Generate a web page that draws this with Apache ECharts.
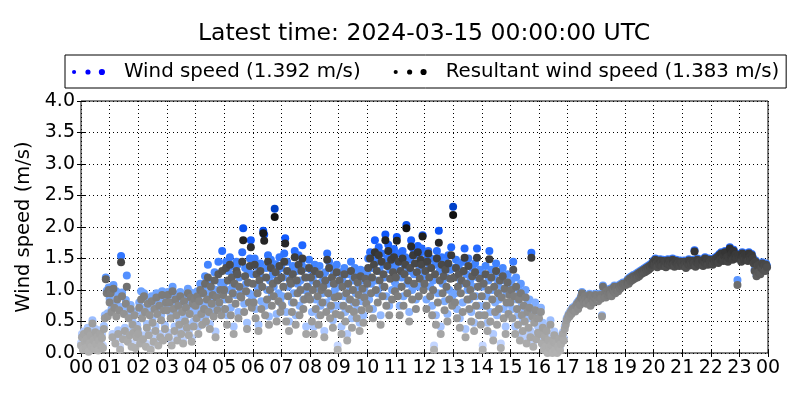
<!DOCTYPE html>
<html>
<head>
<meta charset="utf-8">
<script src="https://cdn.jsdelivr.net/npm/echarts@6/dist/echarts.min.js"></script>
<style>
  html, body { margin: 0; padding: 0; background: #fff; }
  #chart { width: 800px; height: 400px; }
</style>
</head>
<body>
<div id="chart"></div>
<script>
// samples every 2 minutes, 30 per hour
const stepMinutes = 2

const windSpeed = [
  0.16,0.3,0.1,0.34,0.22,0.13,0.27,0.4,0.06,0.2,0.33,0.15,0.52,0.25,0.1,0.38,0.2,0.3,0.08,0.24,0.36,0.16,0.3,0.12,0.43,0.6,1.2,0.99,0.63,1.04, // 00
  0.86,1.0,0.7,0.3,1.08,0.78,0.2,0.98,0.9,0.36,0.74,0.1,1.54,0.96,0.27,0.68,0.4,0.84,1.23,0.23,0.62,0.33,0.76,0.15,0.5,0.37,0.66,0.12,0.3,0.44, // 01
  0.36,0.8,0.2,0.98,0.62,0.28,0.95,0.72,0.15,0.46,0.85,0.33,0.68,0.1,0.9,0.55,0.23,0.78,0.42,0.95,0.7,0.17,0.82,0.3,0.6,0.98,0.25,0.75,0.44,0.88, // 02
  0.75,0.97,0.32,0.92,0.62,0.18,1.05,0.78,0.42,0.93,0.68,0.26,0.82,0.52,0.97,0.36,0.72,0.2,0.9,0.58,0.8,0.46,1.02,0.34,0.7,0.96,0.24,0.86,0.5,0.95, // 03
  0.85,0.65,0.98,0.42,0.92,1.1,0.72,0.55,1.04,0.8,1.22,0.6,0.95,1.4,0.75,0.46,1.15,0.88,1.02,0.68,1.28,0.34,1.0,0.78,1.45,0.92,1.12,0.7,1.62,1.05, // 04
  1.12,0.85,1.45,0.6,1.3,1.0,1.52,0.72,1.38,1.05,0.42,1.25,0.92,1.45,1.4,0.65,1.2,1.02,1.0,1.6,1.98,0.78,1.35,1.1,0.48,1.3,0.95,1.5,1.79,0.85, // 05
  1.25,0.92,1.5,0.7,1.38,1.05,0.45,1.3,1.42,0.82,1.2,1.94,1.88,0.75,1.35,1.0,1.55,0.58,1.15,1.48,0.9,1.25,1.05,2.29,1.41,0.62,1.3,0.95,1.52,0.8, // 06
  1.35,0.9,1.2,1.58,1.82,0.65,1.45,1.05,0.5,1.3,1.25,0.8,1.38,0.95,1.62,0.6,1.3,1.1,1.55,0.75,1.15,1.42,1.71,0.85,1.0,1.35,0.42,1.2,1.05,1.48, // 07
  1.0,1.32,0.65,1.15,0.42,1.4,0.85,1.25,1.02,0.6,1.38,0.75,1.12,0.95,1.2,0.35,1.28,0.8,1.58,1.1,1.45,0.7,0.9,1.35,0.52,1.25,1.0,0.75,1.4,0.12, // 08
  1.05,1.28,0.75,0.42,1.2,0.9,1.35,0.65,1.1,0.3,1.25,0.85,1.0,1.45,0.55,1.15,0.8,1.35,0.95,0.7,1.25,1.05,0.48,1.32,0.82,1.15,0.6,1.02,1.3,0.92, // 09
  1.25,1.5,0.85,1.6,1.1,1.35,0.7,1.55,1.79,1.15,1.45,0.95,1.68,1.3,0.6,1.58,1.05,1.4,1.2,1.88,0.9,1.5,1.72,0.75,1.32,1.6,1.0,1.42,1.65,1.12, // 10
  1.35,1.84,1.05,1.58,0.75,1.45,1.2,1.62,0.9,1.4,1.52,2.03,1.1,1.3,0.65,1.48,1.79,1.0,1.66,1.25,1.55,0.85,1.42,1.7,1.05,1.32,1.6,1.66,1.87,1.15, // 11
  1.25,1.45,0.85,1.55,1.62,1.35,1.05,1.5,0.75,1.15,0.12,1.4,0.6,1.62,0.95,1.94,1.3,0.42,1.52,1.1,1.35,0.82,1.45,1.2,0.62,1.55,1.0,1.32,1.68,0.9, // 12
  2.32,1.35,0.95,1.48,0.7,1.2,1.4,0.55,1.1,1.3,0.8,1.45,1.66,0.38,1.25,1.0,1.5,0.85,1.15,0.65,1.35,1.05,0.48,1.42,0.9,1.66,1.2,0.75,1.32,0.6, // 13
  1.05,0.12,1.25,0.75,1.38,0.9,0.48,1.15,1.62,0.65,1.32,1.0,0.3,1.2,0.8,1.42,0.6,1.1,0.85,1.28,0.15,1.02,1.35,0.7,1.15,0.42,0.95,1.25,0.78,1.05, // 14
  0.95,1.15,0.7,1.45,1.05,0.42,1.2,0.85,0.6,1.0,0.3,1.1,0.75,0.5,0.9,0.65,1.0,0.25,0.8,0.55,0.85,0.35,1.59,0.7,0.18,0.6,0.8,0.3,0.68,0.42, // 15
  0.65,0.38,0.72,0.22,0.48,0.1,0.32,0.16,0.42,0.05,0.26,0.14,0.52,0.18,0.05,0.22,0.34,0.1,0.2,0.05,0.15,0.26,0.08,0.18,0.28,0.33,0.24,0.42,0.48,0.55, // 16
  0.57,0.62,0.6,0.67,0.64,0.72,0.7,0.74,0.68,0.77,0.8,0.72,0.84,0.78,0.9,0.97,0.87,0.82,0.92,0.86,0.8,0.9,0.84,0.94,0.77,0.88,0.92,0.82,0.9,0.94, // 17
  0.87,0.92,0.84,0.9,0.94,0.88,0.6,1.07,0.92,0.97,0.9,1.0,0.94,0.98,1.02,0.96,0.92,1.04,1.0,1.07,0.97,1.02,1.06,1.0,1.08,1.04,1.1,1.07,1.12,1.1, // 18
  1.12,1.1,1.14,1.17,1.12,1.2,1.16,1.22,1.18,1.24,1.2,1.22,1.26,1.22,1.28,1.24,1.3,1.27,1.32,1.29,1.34,1.3,1.36,1.32,1.38,1.34,1.4,1.37,1.42,1.44, // 19
  1.47,1.42,1.5,1.44,1.38,1.47,1.42,1.49,1.45,1.4,1.48,1.43,1.46,1.38,1.44,1.49,1.42,1.47,1.41,1.45,1.5,1.43,1.39,1.46,1.48,1.42,1.45,1.4,1.47,1.44, // 20
  1.44,1.4,1.47,1.42,1.37,1.46,1.43,1.49,1.41,1.45,1.42,1.48,1.44,1.63,1.39,1.46,1.5,1.43,1.47,1.42,1.45,1.49,1.4,1.46,1.52,1.44,1.48,1.42,1.5,1.46, // 21
  1.44,1.47,1.42,1.5,1.46,1.52,1.48,1.54,1.45,1.57,1.5,1.6,1.52,1.48,1.56,1.62,1.49,1.54,1.47,1.52,1.68,1.56,1.6,1.5,1.64,1.54,1.58,1.52,1.16,1.57, // 22
  1.52,1.57,1.47,1.6,1.54,1.5,1.58,1.52,1.56,1.48,1.6,1.54,1.5,1.57,1.52,1.44,1.32,1.47,1.24,1.4,1.3,1.42,1.27,1.37,1.44,1.34,1.4,1.32,1.42,1.38  // 23
]

const resultantSpeed = [
  0.12,0.25,0.05,0.3,0.18,0.08,0.22,0.35,0.02,0.15,0.28,0.1,0.47,0.2,0.06,0.33,0.14,0.25,0.04,0.19,0.3,0.11,0.24,0.08,0.38,0.55,1.17,0.95,0.58,1.0, // 00
  0.8,0.95,0.65,0.25,1.02,0.72,0.15,0.58,0.85,0.3,0.68,0.05,1.44,0.9,0.22,0.62,0.35,0.78,1.05,0.18,0.55,0.28,0.7,0.1,0.45,0.32,0.6,0.08,0.25,0.38, // 01
  0.3,0.72,0.15,0.85,0.55,0.22,0.9,0.65,0.1,0.4,0.78,0.28,0.6,0.05,0.82,0.48,0.18,0.7,0.35,0.88,0.62,0.12,0.75,0.25,0.52,0.92,0.2,0.68,0.38,0.8, // 02
  0.68,0.92,0.25,0.8,0.55,0.12,0.98,0.7,0.35,0.85,0.6,0.2,0.75,0.45,0.9,0.3,0.65,0.15,0.82,0.5,0.72,0.4,0.95,0.28,0.62,0.88,0.18,0.78,0.42,0.85, // 03
  0.75,0.55,0.9,0.3,0.82,1.0,0.62,0.45,0.95,0.7,1.1,0.5,0.85,1.2,0.65,0.38,1.05,0.78,0.92,0.58,1.15,0.25,0.88,0.68,1.25,0.8,1.0,0.6,1.3,0.92, // 04
  1.0,0.7,1.35,0.45,1.15,0.85,1.4,0.6,1.2,0.95,0.3,1.1,0.78,1.3,1.25,0.55,1.05,0.9,0.88,1.45,1.79,0.65,1.22,0.98,0.38,1.12,0.8,1.38,1.68,0.72, // 05
  1.1,0.8,1.4,0.55,1.25,0.95,0.35,1.15,1.3,0.7,1.05,1.9,1.78,0.6,1.2,0.85,1.45,0.45,1.0,1.35,0.75,1.1,0.9,2.16,1.28,0.5,1.15,0.82,1.38,0.65, // 06
  1.2,0.75,1.05,1.45,1.74,0.5,1.3,0.9,0.35,1.15,1.1,0.65,1.25,0.8,1.52,0.45,1.15,0.95,1.4,0.6,1.0,1.3,1.5,0.7,0.85,1.2,0.3,1.05,0.9,1.35, // 07
  0.85,1.2,0.5,1.0,0.3,1.3,0.7,1.1,0.9,0.45,1.25,0.6,1.0,0.8,1.05,0.25,1.15,0.65,1.48,0.95,1.35,0.55,0.75,1.2,0.4,1.1,0.88,0.62,1.28,0.05, // 08
  0.9,1.15,0.6,0.3,1.05,0.75,1.25,0.5,0.95,0.2,1.1,0.7,0.85,1.3,0.4,1.0,0.65,1.2,0.8,0.55,1.12,0.92,0.35,1.22,0.68,1.02,0.48,0.88,1.18,0.78, // 09
  1.1,1.35,0.7,1.5,0.95,1.2,0.55,1.4,1.6,1.0,1.3,0.8,1.55,1.15,0.45,1.45,0.9,1.25,1.05,1.79,0.75,1.38,1.62,0.6,1.18,1.48,0.85,1.28,1.52,0.98, // 10
  1.2,1.78,0.9,1.45,0.6,1.3,1.05,1.5,0.75,1.25,1.4,1.98,0.95,1.15,0.5,1.35,1.69,0.85,1.55,1.1,1.42,0.7,1.28,1.6,0.9,1.18,1.48,1.4,1.85,1.0, // 11
  1.1,1.3,0.7,1.45,1.58,1.2,0.9,1.35,0.6,1.0,0.05,1.25,0.45,1.5,0.8,1.75,1.15,0.3,1.4,0.95,1.22,0.68,1.32,1.05,0.5,1.42,0.85,1.18,1.55,0.75, // 12
  2.19,1.2,0.8,1.35,0.55,1.05,1.25,0.4,0.95,1.15,0.65,1.3,1.51,0.25,1.1,0.85,1.38,0.7,1.0,0.5,1.22,0.9,0.35,1.28,0.75,1.51,1.05,0.6,1.18,0.45, // 13
  0.9,0.05,1.1,0.6,1.25,0.75,0.35,1.0,1.49,0.5,1.2,0.85,0.2,1.05,0.65,1.3,0.45,0.95,0.7,1.15,0.08,0.88,1.22,0.55,1.02,0.3,0.8,1.12,0.62,0.92, // 14
  0.8,1.0,0.55,1.32,0.9,0.3,1.05,0.7,0.45,0.85,0.2,0.95,0.6,0.35,0.75,0.5,0.88,0.15,0.65,0.4,0.72,0.25,1.51,0.58,0.1,0.48,0.68,0.22,0.55,0.32, // 15
  0.55,0.3,0.65,0.15,0.4,0.05,0.25,0.1,0.35,0.0,0.2,0.08,0.45,0.12,0.0,0.18,0.28,0.05,0.15,0.0,0.1,0.22,0.04,0.14,0.25,0.3,0.2,0.38,0.45,0.52, // 16
  0.55,0.6,0.58,0.65,0.62,0.7,0.68,0.72,0.66,0.75,0.78,0.7,0.82,0.76,0.88,0.95,0.85,0.8,0.9,0.84,0.78,0.88,0.82,0.92,0.75,0.86,0.9,0.8,0.88,0.92, // 17
  0.85,0.9,0.82,0.88,0.92,0.86,0.58,1.05,0.9,0.95,0.88,0.98,0.92,0.96,1.0,0.94,0.9,1.02,0.98,1.05,0.95,1.0,1.04,0.98,1.06,1.02,1.08,1.05,1.1,1.08, // 18
  1.1,1.08,1.12,1.15,1.1,1.18,1.14,1.2,1.16,1.22,1.18,1.2,1.24,1.2,1.26,1.22,1.28,1.25,1.3,1.27,1.32,1.28,1.34,1.3,1.36,1.32,1.38,1.35,1.4,1.42, // 19
  1.45,1.4,1.48,1.42,1.36,1.45,1.4,1.47,1.43,1.38,1.46,1.41,1.44,1.36,1.42,1.47,1.4,1.45,1.39,1.43,1.48,1.41,1.37,1.44,1.46,1.4,1.43,1.38,1.45,1.42, // 20
  1.42,1.38,1.45,1.4,1.35,1.44,1.41,1.47,1.39,1.43,1.4,1.46,1.42,1.61,1.37,1.44,1.48,1.41,1.45,1.4,1.43,1.47,1.38,1.44,1.5,1.42,1.46,1.4,1.48,1.44, // 21
  1.42,1.45,1.4,1.48,1.44,1.5,1.46,1.52,1.43,1.55,1.48,1.58,1.5,1.46,1.54,1.6,1.47,1.52,1.45,1.5,1.66,1.54,1.58,1.48,1.62,1.52,1.56,1.5,1.08,1.55, // 22
  1.5,1.55,1.45,1.58,1.52,1.48,1.56,1.5,1.54,1.46,1.58,1.52,1.48,1.55,1.5,1.42,1.3,1.45,1.22,1.38,1.28,1.4,1.25,1.35,1.42,1.32,1.38,1.3,1.4,1.36  // 23
]

const seriesNames = ['Wind speed (1.392 m/s)', 'Resultant wind speed (1.383 m/s)']
const titleText = 'Latest time: 2024-03-15 00:00:00 UTC'

const FONT = 'DejaVu Sans'

const toPoints = arr => arr.map((v, i) => [i * stepMinutes / 60, v])

// three dots, growing, like a matplotlib scatter legend handle
const dotsIcon = 'path://M0,4a2,2 0 1,0 4,0a2,2 0 1,0 -4,0z' +
  'M13,4a2.5,2.5 0 1,0 5,0a2.5,2.5 0 1,0 -5,0z' +
  'M26,4a3,3 0 1,0 6,0a3,3 0 1,0 -6,0z'

const chart = echarts.init(document.getElementById('chart'), null, { renderer: 'canvas' })

const hourLabel = v => String(v % 24).padStart(2, '0')

chart.setOption({
  animation: false,
  backgroundColor: '#fff',
  textStyle: { fontFamily: FONT },
  title: {
    text: titleText,
    left: 424, top: 22,
    padding: 0,
    textAlign: 'center',
    textStyle: { fontFamily: FONT, fontSize: 23.5, fontWeight: 'normal', color: '#000' }
  },
  legend: {
    left: 65, top: 55,
    orient: 'horizontal',
    padding: [7, 7, 6, 7],
    borderColor: '#000',
    borderWidth: 1,
    itemWidth: 33,
    itemHeight: 7,
    itemGap: 33,
    icon: dotsIcon,
    textStyle: { fontFamily: FONT, fontSize: 19.8, color: '#000', padding: [0, 0, 0, 14] },
    data: [
      { name: seriesNames[0], itemStyle: { color: '#0000ff' } },
      { name: seriesNames[1], itemStyle: { color: '#000000' } }
    ]
  },
  grid: { left: 81, right: 32, top: 101, bottom: 47, show: true, borderColor: '#000', borderWidth: 1, backgroundColor: 'transparent' },
  visualMap: [
    {
      show: false, type: 'continuous', seriesIndex: 0, dimension: 1,
      min: 0, max: 2.3,
      inRange: { color: ['#d0ddff', '#a2c2ff', '#72a6ff', '#4486ff', '#0f58ff', '#0040c8'] }
    },
    {
      show: false, type: 'continuous', seriesIndex: 1, dimension: 1,
      min: 0, max: 2.0,
      inRange: { color: ['#b2b2b2', '#9c9c9c', '#767676', '#3e3e3e', '#111111'] }
    }
  ],
  xAxis: [
    {
      type: 'value', min: 0, max: 24, interval: 1,
      axisLine: { show: false },
      axisTick: { show: true, inside: true, length: 4, lineStyle: { color: '#000' } },
      axisLabel: { fontFamily: FONT, fontSize: 19, color: '#000', margin: 6, formatter: hourLabel },
      splitLine: { show: true, lineStyle: { color: '#000', type: [1, 3], width: 1 } }
    },
    {
      type: 'value', min: 0, max: 24, interval: 1, position: 'top',
      axisLine: { show: false },
      axisTick: { show: true, inside: true, length: 4, lineStyle: { color: '#000' } },
      axisLabel: { show: false },
      splitLine: { show: false }
    }
  ],
  yAxis: [
    {
      type: 'value', min: 0, max: 4, interval: 0.5,
      name: 'Wind speed (m/s)',
      nameLocation: 'middle',
      nameGap: 41,
      nameTextStyle: { fontFamily: FONT, fontSize: 19.5, color: '#000' },
      axisLine: { show: false },
      axisTick: { show: true, inside: true, length: 4, lineStyle: { color: '#000' } },
      axisLabel: { fontFamily: FONT, fontSize: 19, color: '#000', margin: 6, formatter: v => v.toFixed(1) },
      splitLine: { show: true, lineStyle: { color: '#000', type: [1, 3], width: 1 } }
    },
    {
      type: 'value', min: 0, max: 4, interval: 0.5, position: 'right',
      axisLine: { show: false },
      axisTick: { show: true, inside: true, length: 4, lineStyle: { color: '#000' } },
      axisLabel: { show: false },
      splitLine: { show: false }
    }
  ],
  series: [
    {
      name: seriesNames[0],
      type: 'scatter',
      symbolSize: 8,
      data: toPoints(windSpeed),
      itemStyle: { opacity: 1 }
    },
    {
      name: seriesNames[1],
      type: 'scatter',
      symbolSize: 8,
      data: toPoints(resultantSpeed),
      itemStyle: { opacity: 1 }
    }
  ]
})
</script>
</body>
</html>
